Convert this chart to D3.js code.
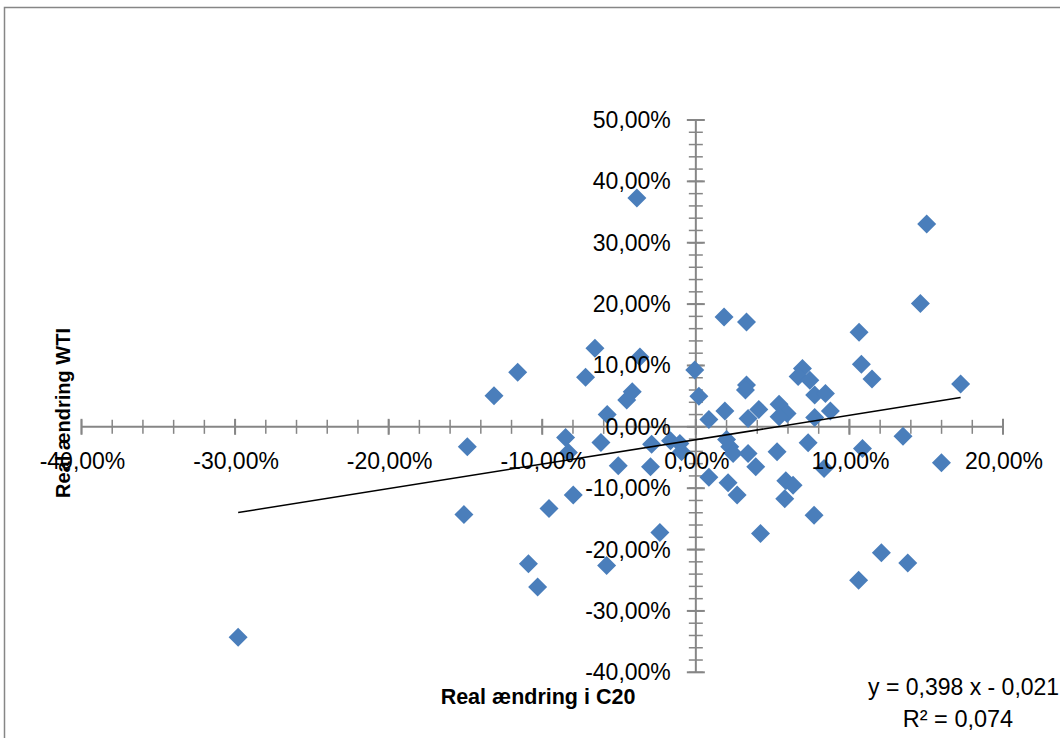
<!DOCTYPE html>
<html>
<head>
<meta charset="utf-8">
<script src="https://cdn.jsdelivr.net/npm/d3@7"></script>
<style>
  html, body { margin: 0; padding: 0; background: #fff; }
  svg { display: block; }
  text { font-family: "Liberation Sans", Arial, sans-serif; fill: #000; }
</style>
</head>
<body>
<svg id="chart" width="1060" height="738"></svg>
<script>
// ---- Data (fractions) ----
const c20 = [-0.298,-0.151,-0.1488,-0.1314,-0.116,-0.109,-0.103,-0.0956,-0.0848,-0.083,
  -0.0798,-0.0718,-0.0657,-0.0618,-0.0581,-0.0577,-0.0505,-0.045,-0.0414,-0.0384,
  -0.0364,-0.0295,-0.0288,-0.0234,-0.0165,-0.0104,-0.0093,-0.0007,0.0020,0.0085,
  0.0085,0.0184,0.0189,0.0200,0.0221,0.0243,0.0210,0.0269,0.0330,0.0330,
  0.0323,0.0340,0.0340,0.0390,0.0410,0.0421,0.0529,0.0542,0.0594,0.0542,
  0.0586,0.0633,0.0579,0.0694,0.0666,0.0742,0.0731,0.0774,0.0774,0.0770,
  0.0844,0.0876,0.0835,0.1063,0.1078,0.1085,0.1060,0.1147,0.1208,0.1349,
  0.1380,0.1462,0.1503,0.1599,0.1724];
const wti = [-0.343,-0.143,-0.0326,0.0506,0.089,-0.223,-0.261,-0.133,-0.0173,-0.042,
  -0.111,0.0806,0.128,-0.0255,-0.226,0.020,-0.0636,0.0436,0.057,0.373,
  0.114,-0.065,-0.0282,-0.172,-0.0228,-0.027,-0.0408,0.0925,0.050,0.012,
  -0.082,0.179,0.0256,-0.0206,-0.0326,-0.0434,-0.091,-0.111,0.171,0.068,
  0.060,0.0137,-0.0434,-0.065,0.0284,-0.174,-0.0408,0.037,0.0218,0.0163,
  -0.088,-0.095,-0.117,0.095,0.082,0.076,-0.026,0.0517,0.0153,-0.144,
  0.0544,0.026,-0.068,0.154,0.102,-0.0353,-0.250,0.0778,-0.205,-0.0152,
  -0.222,0.201,0.3307,-0.0587,0.0697];
const slope = 0.398, intercept = -0.021;
const xTicks = [-0.4,-0.3,-0.2,-0.1,0,0.1,0.2];
const yTicks = [-0.4,-0.3,-0.2,-0.1,0,0.1,0.2,0.3,0.4,0.5];
const xTitle = "Real ændring i C20";
const yTitle = "Real ændring WTI";
const eqText = "y = 0,398 x - 0,021";
const r2Text = "R² = 0,074";

const svg = d3.select("#chart");
const fmt = v => d3.format(".2f")(v*100).replace(".", ",").replace("−","-") + "%";

const x = d3.scaleLinear().domain([-0.4, 0.2]).range([81.5, 1003]);
const y = d3.scaleLinear().domain([-0.4, 0.5]).range([672.3, 120]);
const axisColor = "#868686";

// Outer border
svg.append("rect").attr("x", 4.5).attr("y", 7.5).attr("width", 1100).attr("height", 800)
  .attr("fill", "none").attr("stroke", axisColor).attr("stroke-width", 1.5);

// X axis line & ticks at y=0
const y0 = y(0), x0 = x(0);
const gx = svg.append("g");
gx.append("line").attr("x1", x(-0.4)).attr("x2", x(0.2)).attr("y1", y0).attr("y2", y0)
  .attr("stroke", axisColor).attr("stroke-width", 2);
const xMinor = d3.range(-0.4, 0.2001, 0.02);
gx.selectAll("line.mt").data(xMinor).join("line")
  .attr("x1", d => x(d)).attr("x2", d => x(d))
  .attr("y1", y0 - 7).attr("y2", y0 + 7)
  .attr("stroke", axisColor).attr("stroke-width", 1.5);
gx.selectAll("line.Mt").data(xTicks).join("line")
  .attr("x1", d => x(d)).attr("x2", d => x(d))
  .attr("y1", y0 - 8).attr("y2", y0 + 8)
  .attr("stroke", axisColor).attr("stroke-width", 2);

// Y axis line & ticks at x=0
const gy = svg.append("g");
gy.append("line").attr("x1", x0).attr("x2", x0).attr("y1", y(-0.4)).attr("y2", y(0.5))
  .attr("stroke", axisColor).attr("stroke-width", 2);
const yMinor = d3.range(-0.4, 0.5001, 0.02);
gy.selectAll("line.mt").data(yMinor).join("line")
  .attr("x1", x0 - 7).attr("x2", x0 + 7)
  .attr("y1", d => y(d)).attr("y2", d => y(d))
  .attr("stroke", axisColor).attr("stroke-width", 1.5);
gy.selectAll("line.Mt").data(yTicks).join("line")
  .attr("x1", x0 - 9).attr("x2", x0 + 9)
  .attr("y1", d => y(d)).attr("y2", d => y(d))
  .attr("stroke", axisColor).attr("stroke-width", 2);

// Points
const pts = c20.map((v, i) => [v, wti[i]]);
const half = 9.5;
svg.append("g").selectAll("path").data(pts).join("path")
  .attr("d", d => {
    const cx = x(d[0]), cy = y(d[1]);
    return `M${cx},${cy-half}L${cx+half},${cy}L${cx},${cy+half}L${cx-half},${cy}Z`;
  })
  .attr("fill", "#4A7EBB");

// Trendline
const xmin = d3.min(c20), xmax = d3.max(c20);
svg.append("line")
  .attr("x1", x(xmin)).attr("y1", y(slope*xmin + intercept))
  .attr("x2", x(xmax)).attr("y2", y(slope*xmax + intercept))
  .attr("stroke", "#000").attr("stroke-width", 1.5);

// Tick labels
svg.append("g").selectAll("text").data(xTicks).join("text")
  .attr("x", d => x(d) + 1).attr("y", y0 + 42)
  .attr("text-anchor", "middle").attr("font-size", 23)
  .text(fmt);
svg.append("g").selectAll("text").data(yTicks).join("text")
  .attr("x", x0 - 25).attr("y", d => y(d) + 8)
  .attr("text-anchor", "end").attr("font-size", 23)
  .text(fmt);

// Axis titles
svg.append("text").attr("x", 538).attr("y", 704)
  .attr("text-anchor", "middle").attr("font-size", 21.5).attr("font-weight", "bold")
  .text(xTitle);
svg.append("text")
  .attr("transform", "translate(70,413) rotate(-90)")
  .attr("text-anchor", "middle").attr("font-size", 20).attr("font-weight", "bold")
  .text(yTitle);

// Equation
svg.append("text").attr("x", 868).attr("y", 695)
  .attr("font-size", 23).text(eqText);
svg.append("text").attr("x", 958).attr("y", 727).attr("text-anchor", "middle")
  .attr("font-size", 23.5).text(r2Text);
</script>
</body>
</html>
